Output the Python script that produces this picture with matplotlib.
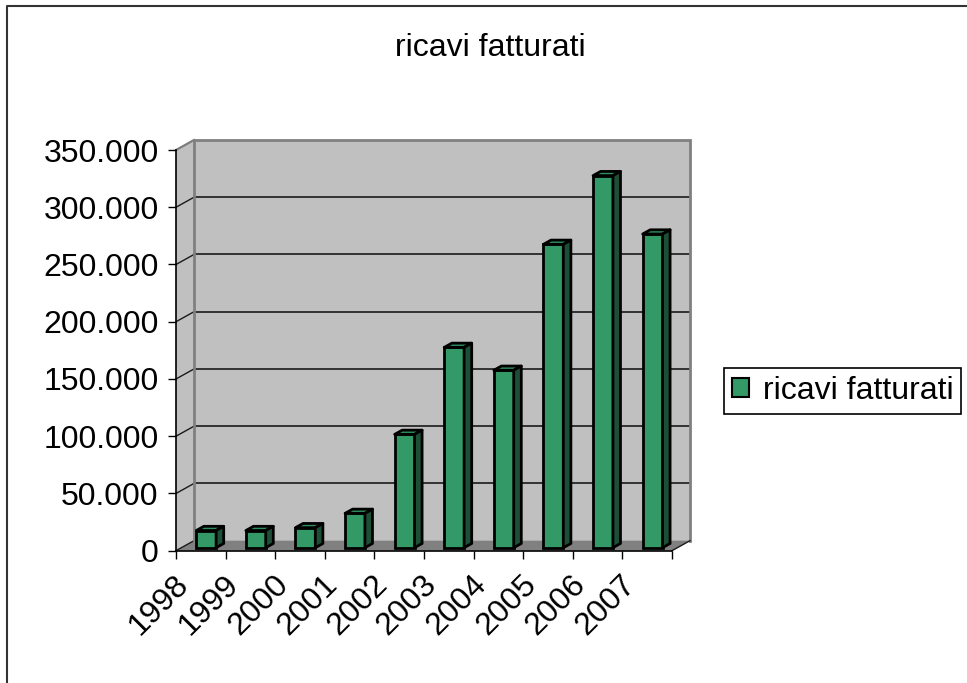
import matplotlib
matplotlib.use("Agg")
import matplotlib.pyplot as plt
from matplotlib.patches import Polygon, Rectangle, Patch
from matplotlib.lines import Line2D

plt.rcParams['font.family'] = ['Liberation Sans', 'DejaVu Sans']

# ---- data ----
years = ['1998', '1999', '2000', '2001', '2002', '2003', '2004', '2005', '2006', '2007']
ricavi = [15000, 15000, 17500, 30000, 99000, 175000, 155000, 265000, 325000, 274000]
y_ticks = [0, 50000, 100000, 150000, 200000, 250000, 300000, 350000]
title = 'ricavi fatturati'
series_name = 'ricavi fatturati'

# ---- style / geometry ----
W, H = 967, 683
FS = 23
green = '#339966'
green_top = '#2E8C5D'
green_side = '#1D4F37'
wall = '#C0C0C0'
floor_c = '#808080'

DX = 0.363          # depth offset (category units)
DY = 8750           # depth offset (value units)
YMAX = 350000
n = len(years)
bw = 0.40           # bar width
f0 = 0.30           # bar front depth fraction
fd = 0.42           # bar depth fraction

fig = plt.figure(figsize=(W / 100, H / 100), dpi=100)
ax = fig.add_axes([176 / W, (H - 550.7) / H, 514 / W, 410.7 / H])
ax.set_xlim(0, n + DX)
ax.set_ylim(0, YMAX + DY)
ax.patch.set_visible(False)

# walls
ax.add_patch(Rectangle((DX, DY), n, YMAX, facecolor=wall, edgecolor='none', zorder=0))
ax.add_patch(Polygon([(0, 0), (DX, DY), (DX, YMAX + DY), (0, YMAX)], closed=True,
                     facecolor=wall, edgecolor='none', zorder=0))
ax.add_patch(Polygon([(0, 0), (n, 0), (n + DX, DY), (DX, DY)], closed=True,
                     facecolor=floor_c, edgecolor='none', zorder=0.5))

# gridlines
for v in y_ticks:
    ax.plot([0, DX], [v, v + DY], color='#1a1a1a', lw=1, zorder=1, clip_on=False)
    if 0 < v < YMAX:
        ax.plot([DX, n + DX], [v + DY, v + DY], color='#1a1a1a', lw=1.2, zorder=1)

# wall edges
ax.plot([DX, DX, n + DX, n + DX], [DY, YMAX + DY, YMAX + DY, DY], color='#808080', lw=2,
        zorder=1.5, clip_on=False, solid_joinstyle='miter')
ax.plot([0, DX], [YMAX, YMAX + DY], color='#808080', lw=1.5, zorder=1.5, clip_on=False)
ax.plot([n, n + DX], [0, DY], color='#1a1a1a', lw=1, zorder=1.5, clip_on=False)

# bars
sx = f0 * DX
sy = f0 * DY
ddx = fd * DX
ddy = fd * DY
xs = [i + 0.5 + sx for i in range(n)]
ax.bar(xs, ricavi, width=bw, bottom=sy, color=green, edgecolor='black', linewidth=2,
       zorder=3)
for xc, v in zip(xs, ricavi):
    xl, xr = xc - bw / 2, xc + bw / 2
    top = v + sy
    ax.add_patch(Polygon([(xl, top), (xr, top), (xr + ddx, top + ddy), (xl + ddx, top + ddy)],
                         closed=True, facecolor=green_top, edgecolor='black', lw=2,
                         joinstyle='round', zorder=3))
    ax.add_patch(Polygon([(xr, sy), (xr + ddx, sy + ddy), (xr + ddx, top + ddy), (xr, top)],
                         closed=True, facecolor=green_side, edgecolor='black', lw=2,
                         joinstyle='round', zorder=3))

# axes
for s in ['top', 'right']:
    ax.spines[s].set_visible(False)
ax.spines['left'].set_bounds(0, YMAX)
ax.spines['bottom'].set_bounds(0, n)
ax.spines['left'].set_zorder(4)
ax.spines['bottom'].set_zorder(4)
ax.spines['left'].set_linewidth(1.2)
ax.spines['bottom'].set_linewidth(1.2)

ax.set_yticks(y_ticks)
ax.set_yticklabels([f"{v:,}".replace(",", ".") for v in y_ticks], fontsize=FS)
ax.tick_params(axis='y', length=6, width=1, direction='out', pad=6.5)

ax.set_xticks(range(n + 1))
ax.set_xticklabels([])
ax.set_xticks([i + 0.5 - 0.33 for i in range(n)], minor=True)
ax.set_xticklabels(years, minor=True, fontsize=FS, rotation=45, ha='right', va='center',
                   rotation_mode='anchor')
ax.tick_params(axis='x', which='major', length=6, width=1, direction='out')
ax.tick_params(axis='x', which='minor', length=0, pad=21)

# title
fig.text(490.8 / W, 1 - 56 / H, title, ha='center', va='baseline', fontsize=FS)

# legend
h = Patch(facecolor=green, edgecolor='black', linewidth=1.5)
leg = fig.legend([h], [series_name], loc='center left',
                 bbox_to_anchor=(724 / W, (H - 391) / H), fontsize=FS,
                 frameon=True, fancybox=False, framealpha=1, edgecolor='black',
                 handlelength=0.54, handleheight=0.54, handletextpad=0.42,
                 borderpad=0.25, borderaxespad=0)
leg.get_frame().set_linewidth(1.2)

# outer frame
fig.add_artist(Line2D([7 / W, 7 / W, 1.05], [-0.05, 1 - 5.7 / H, 1 - 5.7 / H],
                      transform=fig.transFigure, color='#333333', lw=1.5))

fig.savefig('out.png', dpi=100)
